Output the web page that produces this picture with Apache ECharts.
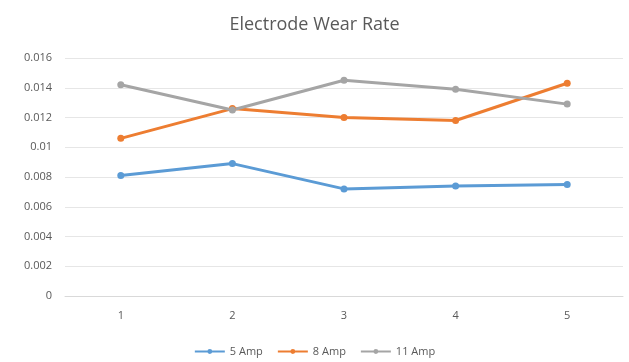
<!DOCTYPE html>
<html><head><meta charset="utf-8">
<script src="https://cdn.jsdelivr.net/npm/echarts@6/dist/echarts.min.js"></script>
<style>html,body{margin:0;padding:0;background:#fff}#c{width:629px;height:362px}</style>
</head><body><div id="c"></div>
<script>
const categories = ['1','2','3','4','5'];
const amp5 = [0.0081, 0.0089, 0.0072, 0.0074, 0.0075];
const amp8 = [0.0106, 0.0126, 0.0120, 0.0118, 0.0143];
const amp11 = [0.0142, 0.0125, 0.0145, 0.0139, 0.0129];
const seriesNames = ['5 Amp','8 Amp','11 Amp'];
const colors = ['#5B9BD5','#ED7D31','#A5A5A5'];
const chart = echarts.init(document.getElementById('c'));
const mk = (name, data, color) => ({
  name, type:'line', data, symbol:'circle', symbolSize:7,
  lineStyle:{width:3,color}, itemStyle:{color}
});
chart.setOption({
  animation:false,
  title:{text:'Electrode Wear Rate',left:'center',top:11,
    textStyle:{fontFamily:'Open Sans',fontSize:18,fontWeight:'normal',color:'#595959'}},
  legend:{bottom:0,itemGap:14,itemWidth:30,itemHeight:6,
    textStyle:{fontFamily:'Open Sans',fontSize:11,color:'#595959'},
    data:seriesNames},
  grid:{left:65,right:6,top:58,bottom:66},
  xAxis:{type:'category',data:categories,boundaryGap:true,
    axisLine:{lineStyle:{color:'#d9d9d9'}},axisTick:{show:false},
    axisLabel:{fontFamily:'Open Sans',fontSize:11,color:'#595959',margin:14}},
  yAxis:{type:'value',min:0,max:0.016,interval:0.002,
    axisLine:{show:false},axisTick:{show:false},
    splitLine:{lineStyle:{color:'#e6e6e6'}},
    axisLabel:{fontFamily:'Open Sans',fontSize:11,color:'#595959',margin:13,
      formatter:v=>String(+v.toFixed(3))}},
  series:[mk(seriesNames[0],amp5,colors[0]),mk(seriesNames[1],amp8,colors[1]),mk(seriesNames[2],amp11,colors[2])]
});
</script></body></html>
